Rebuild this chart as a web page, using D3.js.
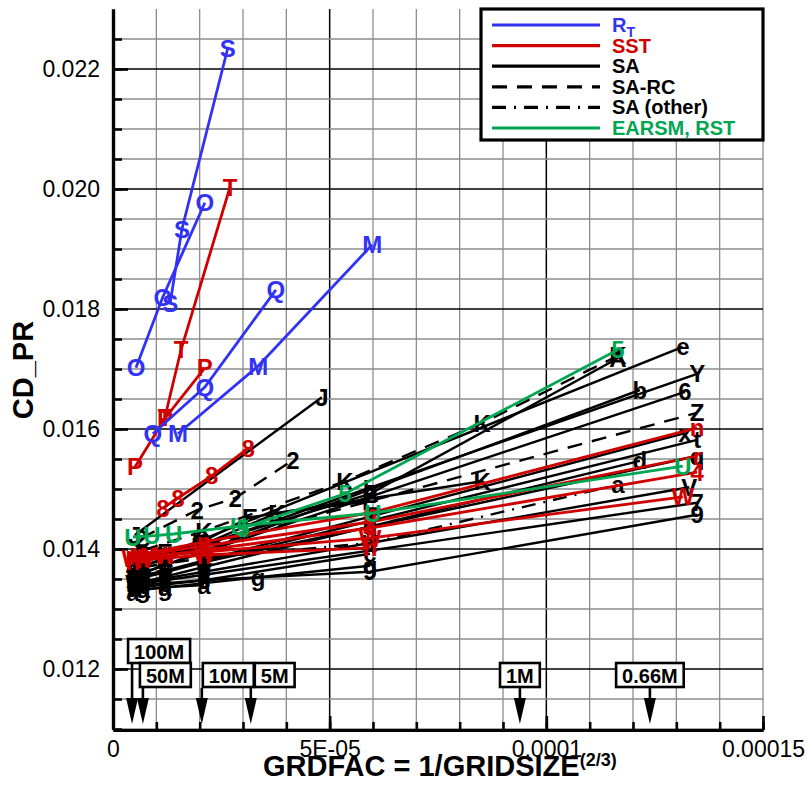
<!DOCTYPE html>
<html lang="en">
<head>
<meta charset="UTF-8">
<title>CD_PR vs GRDFAC</title>
<style>
  body { margin: 0; background: #fff; }
  svg { display: block; }
  text { font-family: "Liberation Sans", Arial, Helvetica, sans-serif; }
</style>
</head>
<body>
<svg id="chart" width="809" height="791"></svg>
<script src="https://d3js.org/d3.v7.min.js"></script>
<script>
// axis ticks
const xTicks = [0, 5e-5, 1e-4, 1.5e-4];
const xTickLabels = ['0', '5E-05', '0.0001', '0.00015'];
const yTicks = [0.012, 0.014, 0.016, 0.018, 0.020, 0.022];
const yTickLabels = ['0.012', '0.014', '0.016', '0.018', '0.020', '0.022'];

// legend / turbulence models
const models = ['R_T', 'SST', 'SA', 'SA-RC', 'SA (other)', 'EARSM, RST'];

// grid-size markers
const gridLabels = ['100M', '50M', '10M', '5M', '1M', '0.66M'];
const gridFac = [4.4e-6, 6.9e-6, 2.05e-5, 3.18e-5, 9.39e-5, 1.239e-4];

// series: [symbol, grdfac values, CD_PR values]
const rtSeries = [
  ['S', [1.32e-5, 1.59e-5, 2.65e-5], [0.0181, 0.01933, 0.02235]],
  ['O', [5.3e-6, 1.15e-5, 2.12e-5], [0.01702, 0.0182, 0.01977]],
  ['Q', [9.2e-6, 2.12e-5, 3.76e-5], [0.01592, 0.0167, 0.01832]],
  ['M', [1.5e-5, 3.35e-5, 5.98e-5], [0.01592, 0.01705, 0.01907]]
];
const sstSeries = [
  ['T', [1.2e-5, 1.57e-5, 2.7e-5], [0.0162, 0.01732, 0.02003]],
  ['P', [5.1e-6, 1.2e-5, 2.12e-5], [0.01537, 0.01618, 0.01702]],
  ['8', [1.15e-5, 1.5e-5, 2.28e-5, 3.12e-5], [0.01468, 0.01485, 0.01522, 0.01568]],
  ['n', [4.6e-6, 7e-6, 2.1e-5, 5.93e-5, 1.348e-4], [0.0139, 0.01392, 0.01412, 0.0146, 0.01602]],
  ['r', [4.6e-6, 2.1e-5, 5.93e-5, 1.348e-4], [0.01388, 0.01405, 0.01445, 0.01555]],
  ['4', [7e-6, 2.1e-5, 5.93e-5, 1.348e-4], [0.01385, 0.01398, 0.01435, 0.01528]],
  ['W', [4.6e-6, 7e-6, 1.2e-5, 2.1e-5, 5.93e-5, 1.315e-4], [0.01385, 0.01388, 0.0139, 0.01395, 0.01418, 0.01487]],
  ['h', [4.6e-6, 7e-6, 2.1e-5, 5.93e-5], [0.0138, 0.01382, 0.0139, 0.01402]]
];
const saSeries = [
  ['J', [5.0e-6, 4.82e-5], [0.01423, 0.01653]],
  ['e', [4.6e-6, 7e-6, 1.2e-5, 2.1e-5, 1.315e-4], [0.0137, 0.01377, 0.01391, 0.01417, 0.01737]],
  ['Y', [4.6e-6, 7e-6, 1.2e-5, 2.1e-5, 1.348e-4], [0.01365, 0.01371, 0.01384, 0.01406, 0.01692]],
  ['b', [7e-6, 1.2e-5, 2.1e-5, 5.93e-5, 1.216e-4], [0.0136, 0.01373, 0.01397, 0.01499, 0.01665]],
  ['6', [4.6e-6, 7e-6, 1.2e-5, 2.1e-5, 1.32e-4], [0.01355, 0.01361, 0.01373, 0.01395, 0.01662]],
  ['A', [7e-6, 1.2e-5, 2.1e-5, 5.93e-5, 1.165e-4], [0.01372, 0.01385, 0.01408, 0.01492, 0.01718]],
  ['x', [4.6e-6, 7e-6, 1.2e-5, 2.1e-5, 5.93e-5, 1.32e-4], [0.0135, 0.01355, 0.01364, 0.01381, 0.01454, 0.01593]],
  ['t', [4.6e-6, 1.2e-5, 2.1e-5, 1.348e-4], [0.01348, 0.01361, 0.01378, 0.01582]],
  ['q', [4.6e-6, 7e-6, 2.1e-5, 5.93e-5, 1.348e-4], [0.01352, 0.01356, 0.01378, 0.01437, 0.01555]],
  ['d', [7e-6, 1.2e-5, 2.1e-5, 1.216e-4], [0.01345, 0.01354, 0.0137, 0.01547]],
  ['E', [7e-6, 1.2e-5, 2.0e-5, 3.16e-5, 5.93e-5], [0.0139, 0.01395, 0.0141, 0.01453, 0.0148]],
  ['K', [1.2e-5, 2.0e-5, 3.78e-5, 8.52e-5], [0.0139, 0.01405, 0.0146, 0.01513]],
  ['V', [4.6e-6, 7e-6, 1.2e-5, 2.1e-5, 5.93e-5, 1.33e-4], [0.01342, 0.01345, 0.01351, 0.01362, 0.0141, 0.01503]],
  ['7', [4.6e-6, 7e-6, 1.2e-5, 2.1e-5, 1.348e-4], [0.0134, 0.01343, 0.01348, 0.01357, 0.01477]],
  ['9', [4.6e-6, 2.1e-5, 5.93e-5, 1.348e-4], [0.01335, 0.01348, 0.01362, 0.01457]],
  ['g', [7e-6, 1.2e-5, 3.35e-5, 5.93e-5], [0.01332, 0.01336, 0.01353, 0.01372]],
  ['a', [4.6e-6, 7e-6, 1.2e-5, 2.1e-5], [0.01328, 0.01333, 0.01336, 0.0134]],
  ['c', [4.6e-6, 7e-6, 1.2e-5, 2.1e-5, 5.93e-5], [0.01338, 0.0134, 0.01343, 0.01348, 0.01392]]
];
const saRcSeries = [
  ['K', [7e-6, 2.1e-5, 5.35e-5, 8.52e-5, 1.165e-4], [0.01398, 0.0143, 0.01513, 0.0161, 0.01722]],
  ['2', [6.5e-6, 1.94e-5, 2.82e-5, 4.15e-5], [0.01418, 0.01465, 0.01485, 0.01548]],
  ['Z', [4.6e-6, 2.1e-5, 1.348e-4], [0.01375, 0.01405, 0.01627]]
];
const saOtherSeries = [
  ['a', [7e-6, 2.1e-5, 5.93e-5, 1.165e-4], [0.0137, 0.01385, 0.0141, 0.01507]]
];
const earsmSeries = [
  ['U', [4.6e-6, 9e-6, 1.4e-5, 2.9e-5, 6e-5, 1.315e-4], [0.0142, 0.01422, 0.01425, 0.01438, 0.0146, 0.01538]],
  ['5', [3.0e-5, 5.35e-5, 1.165e-4], [0.01435, 0.01492, 0.01732]]
];

const blue = '#3232f5', red = '#d00000', green = '#00a651';
const styles = {
  'R_T': { color: blue, dash: null, width: 2.8 },
  'SST': { color: red, dash: null, width: 2.8 },
  'SA': { color: '#000', dash: null, width: 2.4 },
  'SA-RC': { color: '#000', dash: '15,10', width: 2.4 },
  'SA (other)': { color: '#000', dash: '14,8,2,8', width: 2.4 },
  'EARSM, RST': { color: green, dash: null, width: 2.8 }
};

const svg = d3.select('#chart');
const x = d3.scaleLinear().domain([0, 1.5e-4]).range([113, 763]);
const y = d3.scaleLinear().domain([0.011, 0.023]).range([729, 9]);

svg.append('defs').append('clipPath').attr('id', 'plot')
  .append('rect').attr('x', 113).attr('y', 9).attr('width', 650).attr('height', 720);

// grid
const grid = svg.append('g');
const xMinor = d3.range(1, 16).map(i => i * 1e-5);
const yMinor = d3.range(0, 24).map(i => 0.011 + i * 0.0005);
const isMajorX = d => Math.round(d * 1e5) % 5 === 0 && d < 1.45e-4;
const isMajorY = d => Math.round(d * 1e4) % 20 === 0;
grid.selectAll('.vx').data(xMinor).join('line')
  .attr('x1', d => x(d)).attr('x2', d => x(d)).attr('y1', y(0.023)).attr('y2', y(0.011))
  .attr('stroke', d => isMajorX(d) ? '#000' : '#8c8c8c')
  .attr('stroke-width', d => isMajorX(d) ? 1.5 : 1.3);
grid.selectAll('.hy').data(yMinor).join('line')
  .attr('y1', d => y(d)).attr('y2', d => y(d)).attr('x1', x(0)).attr('x2', x(1.5e-4))
  .attr('stroke', d => isMajorY(d) ? '#000' : '#8c8c8c')
  .attr('stroke-width', d => isMajorY(d) ? 1.5 : 1.3);

// axes
const xAxis = d3.axisBottom(x).tickValues(xTicks)
  .tickFormat((d, i) => xTickLabels[i]).tickSizeInner(-14).tickSizeOuter(0).tickPadding(11);
const xAxisMinor = d3.axisBottom(x).tickValues(xMinor).tickFormat('').tickSizeInner(-8).tickSizeOuter(0);
const yAxis = d3.axisLeft(y).tickValues(yTicks)
  .tickFormat((d, i) => yTickLabels[i]).tickSizeInner(-15).tickSizeOuter(0).tickPadding(13);
const yAxisMinor = d3.axisLeft(y).tickValues(yMinor).tickFormat('').tickSizeInner(-9).tickSizeOuter(0);

function styleAxis(g) {
  g.select('.domain').attr('stroke', '#000').attr('stroke-width', 3.2);
  g.selectAll('.tick line').attr('stroke', '#000').attr('stroke-width', 2.6);
  g.selectAll('.tick text').attr('font-size', 23).attr('fill', '#000')
    .attr('font-family', '"Liberation Sans", Arial, sans-serif');
}
svg.append('g').attr('transform', 'translate(0,730)').call(xAxisMinor).call(styleAxis);
svg.append('g').attr('transform', 'translate(113,0)').call(yAxisMinor).call(styleAxis);
svg.append('g').attr('transform', 'translate(0,730)').call(xAxis).call(styleAxis);
svg.append('g').attr('transform', 'translate(113,0)').call(yAxis).call(styleAxis);

// axis titles
const xt = svg.append('text').attr('x', 263).attr('y', 776)
  .attr('font-size', 29).attr('font-weight', 'bold').attr('fill', '#000');
xt.append('tspan').text('GRDFAC = 1/GRIDSIZE');
xt.append('tspan').attr('dy', -10).attr('font-size', 18).text('(2/3)');

svg.append('text').attr('transform', 'translate(33,370) rotate(-90)')
  .attr('text-anchor', 'middle').attr('font-size', 29).attr('font-weight', 'bold')
  .attr('fill', '#000').text('CD_PR');

// series
const plot = svg.append('g').attr('clip-path', 'url(#plot)');
const line = d3.line().x(d => x(d[0])).y(d => y(d[1]));
const groups = [
  ['SA', saSeries], ['SA-RC', saRcSeries], ['SA (other)', saOtherSeries],
  ['SST', sstSeries], ['EARSM, RST', earsmSeries], ['R_T', rtSeries]
];
groups.forEach(([model, list]) => {
  const st = styles[model];
  list.forEach(([sym, xs, ys]) => {
    const pts = xs.map((v, i) => [v, ys[i]]);
    plot.append('path').datum(pts).attr('d', line)
      .attr('fill', 'none').attr('stroke', st.color).attr('stroke-width', st.width)
      .attr('stroke-dasharray', st.dash);
    plot.selectAll(null).data(pts).join('text')
      .attr('x', d => x(d[0])).attr('y', d => y(d[1])).attr('dy', '0.36em')
      .attr('text-anchor', 'middle').attr('font-size', 24).attr('font-weight', 'bold')
      .attr('fill', st.color).text(sym);
  });
});

// grid-size markers
const boxRow = [0, 1, 1, 1, 1, 1];
const boxAlign = [-4, -3, 1, 4, 'c', 'c'];
gridLabels.forEach((lab, i) => {
  const ax = x(gridFac[i]);
  const top = boxRow[i] === 0 ? 639 : 663;
  const g = svg.append('g');
  const t = g.append('text').attr('font-size', 20).attr('font-weight', 'bold').text(lab);
  const w = t.node().getComputedTextLength() + 12;
  const left = boxAlign[i] === 'c' ? ax - w / 2 : ax + boxAlign[i];
  g.insert('rect', 'text').attr('x', left).attr('y', top).attr('width', w).attr('height', 24)
    .attr('fill', '#fff').attr('stroke', '#000').attr('stroke-width', 2.6);
  t.attr('x', left + w / 2).attr('y', top + 19.5).attr('text-anchor', 'middle');
  svg.append('line').attr('x1', ax).attr('x2', ax).attr('y1', top + 25).attr('y2', 702)
    .attr('stroke', '#000').attr('stroke-width', 2.6);
  svg.append('path').attr('d', `M${ax - 6},698 L${ax + 6},698 L${ax},724 Z`).attr('fill', '#000');
});

// legend
const lg = svg.append('g');
lg.append('rect').attr('x', 481).attr('y', 9).attr('width', 282).attr('height', 131)
  .attr('fill', '#fff').attr('stroke', '#000').attr('stroke-width', 3.2);
models.forEach((m, i) => {
  const st = styles[m];
  const ly = 25 + i * 20.6;
  lg.append('line').attr('x1', 492).attr('x2', 600).attr('y1', ly).attr('y2', ly)
    .attr('stroke', st.color).attr('stroke-width', 3.2).attr('stroke-dasharray', st.dash);
  const t = lg.append('text').attr('x', 612).attr('y', ly + 7)
    .attr('font-size', 20).attr('font-weight', 'bold').attr('fill', st.color);
  if (m === 'R_T') {
    t.append('tspan').text('R');
    t.append('tspan').attr('dy', 5).attr('font-size', 14).text('T');
  } else {
    t.text(m);
  }
});
</script>
</body>
</html>
